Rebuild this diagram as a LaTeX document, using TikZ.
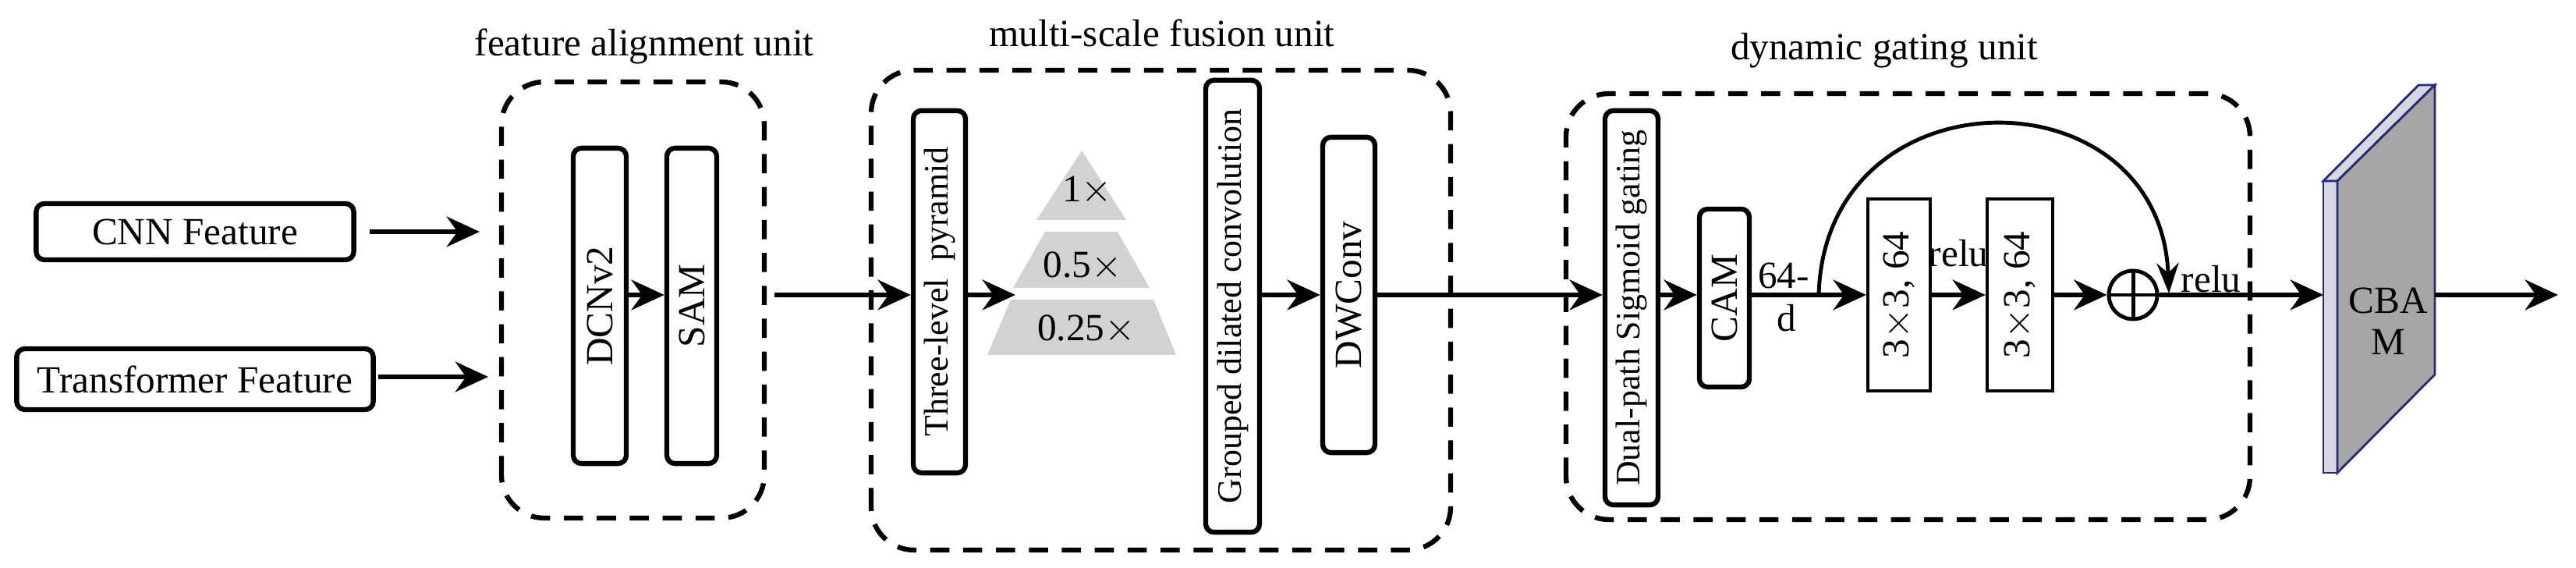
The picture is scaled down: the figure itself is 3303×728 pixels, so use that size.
\documentclass[tikz,border=0pt]{standalone}
\usepackage{fontspec}
\setmainfont{Liberation Serif}
\usetikzlibrary{arrows.meta}
\begin{document}
\begin{tikzpicture}[x=0.01cm,y=0.01cm,
  every node/.style={font=\fontsize{14}{16}\selectfont},
  box/.style={draw,line width=1.8pt,rounded corners=3pt,inner sep=0pt},
  vt/.style={font=\fontsize{12.5}{14}\selectfont},
  pbox/.style={draw,line width=1.2pt,inner sep=0pt},
  unit/.style={draw,line width=1.8pt,dash pattern=on 7pt off 5pt,rounded corners=0.55cm},
  arr/.style={line width=1.8pt,-{Stealth[length=12pt,width=11pt]}},
  tri/.style={fill=gray!35,draw=none}]
\useasboundingbox (0,0) rectangle (3303,728);
% inputs
\node[box,minimum width=4.07cm,minimum height=0.72cm] (cnn) at (250,431) {CNN Feature};
\node[box,minimum width=4.57cm,minimum height=0.78cm] (tf) at (250,242) {Transformer Feature};
\coordinate (cnnE) at (474,431); \coordinate (cnnT) at (615,431);
\coordinate (tfE) at (485,245); \coordinate (tfT) at (626,245);
\draw[arr] (cnnE) -- (cnnT);
\draw[arr] (tfE) -- (tfT);
% feature alignment unit
\draw[unit] (643,64) rectangle (980,623);
\node (t1) at (826,669) {feature alignment unit};
\node[box,rotate=90,minimum width=4.04cm,minimum height=0.68cm] (dcn) at (769,336) {DCNv2};
\node[box,rotate=90,minimum width=4.04cm,minimum height=0.64cm] (sam) at (887,336) {SAM};
\draw[arr] (dcn.south |- 0,350) -- (sam.north |- 0,350);
% multi-scale fusion unit
\draw[unit] (1117,23) rectangle (1860,638);
\node (t2) at (1490,686) {multi-scale fusion unit};
\node[box,vt,rotate=90,minimum width=4.64cm,minimum height=0.67cm] (tl) at (1204.5,354) {Three-level\ \ pyramid};
\coordinate (fa) at (993,350);
\draw[arr] (fa) -- (tl.north |- 0,350);
\coordinate (pyr) at (1302,350);
\draw[arr] (tl.south |- 0,350) -- (pyr);
\fill[tri] (1387,535) -- (1444,446) -- (1329,446) -- cycle;
\fill[tri] (1340,431) -- (1433,431) -- (1474,359) -- (1299,359) -- cycle;
\fill[tri] (1296,344) -- (1479,344) -- (1508,273) -- (1266,273) -- cycle;
\node (s1) at (1394,484) {1$\times$};
\node (s2) at (1388,387) {0.5$\times$};
\node (s3) at (1393,306) {0.25$\times$};
\node[box,vt,rotate=90,minimum width=5.79cm,minimum height=0.69cm] (gdc) at (1580.5,335.5) {Grouped dilated\ convolution};
\node[box,rotate=90,minimum width=4.04cm,minimum height=0.67cm] (dw) at (1729.5,350) {DWConv};
\draw[arr] (gdc.south |- 0,350) -- (dw.north |- 0,350);
% dynamic gating unit
\draw[unit] (2008,62) rectangle (2885,608);
\node (t3) at (2416,663) {dynamic gating unit};
\node[box,vt,rotate=90,minimum width=5.05cm,minimum height=0.68cm] (dp) at (2092,333.5) {Dual-path Sigmoid\ gating};
\draw[arr] (dw.south |- 0,350) -- (dp.north |- 0,350);
\node[box,rotate=90,minimum width=2.28cm,minimum height=0.64cm] (cam) at (2211,346) {CAM};
\draw[arr] (dp.south |- 0,350) -- (cam.north |- 0,350);
\node (l64) at (2287,375) {64-};
\node (ld) at (2291,320) {d};
\node[pbox,rotate=90,minimum width=2.46cm,minimum height=0.80cm] (c1) at (2435,350) {3$\times$3,\ 64};
\node[pbox,rotate=90,minimum width=2.46cm,minimum height=0.84cm] (c2) at (2590,350) {3$\times$3,\ 64};
\draw[arr] (cam.south |- 0,350) -- (c1.north);
\node (r1) at (2511,403) {relu};
\draw[arr] (c1.south) -- (c2.north);
\node[draw,circle,line width=1.4pt,minimum size=0.62cm,inner sep=0pt] (op) at (2735,350) {};
\draw[line width=1.4pt] (op.north) -- (op.south) (op.west) -- (op.east);
\draw[arr] (c2.south) -- (op.west);
\coordinate (sk) at (2332,350);
\coordinate (ske) at (2781,352);
\draw[line width=1.4pt,-{Stealth[length=11pt,width=8pt]}] (sk) .. controls (2340,640) and (2770,640) .. (ske);
\node (r2) at (2835,370) {relu};
% CBAM
\coordinate (cbamL) at (2979,350);
\draw[draw={rgb,255:red,40;green,40;blue,120},line width=0.8pt,fill={rgb,255:red,215;green,215;blue,225}]
  (2979,122) rectangle (2997,496);
\draw[draw={rgb,255:red,40;green,40;blue,120},line width=0.8pt,fill={rgb,255:red,215;green,215;blue,225}]
  (2979,496) -- (3101,619) -- (3122,619) -- (2997,496) -- cycle;
\draw[draw={rgb,255:red,40;green,40;blue,120},line width=0.8pt,fill=gray!70]
  (2997,496) -- (3122,619) -- (3122,248) -- (2997,122) -- cycle;
\node (cb1) at (3062,343) {CBA};
\node (cb2) at (3062,290) {M};
\draw[arr] (op.east) -- (cbamL);
\coordinate (cbR) at (3122,350); \coordinate (outT) at (3280,350);
\draw[arr] (cbR) -- (outT);
\end{tikzpicture}
\end{document}
